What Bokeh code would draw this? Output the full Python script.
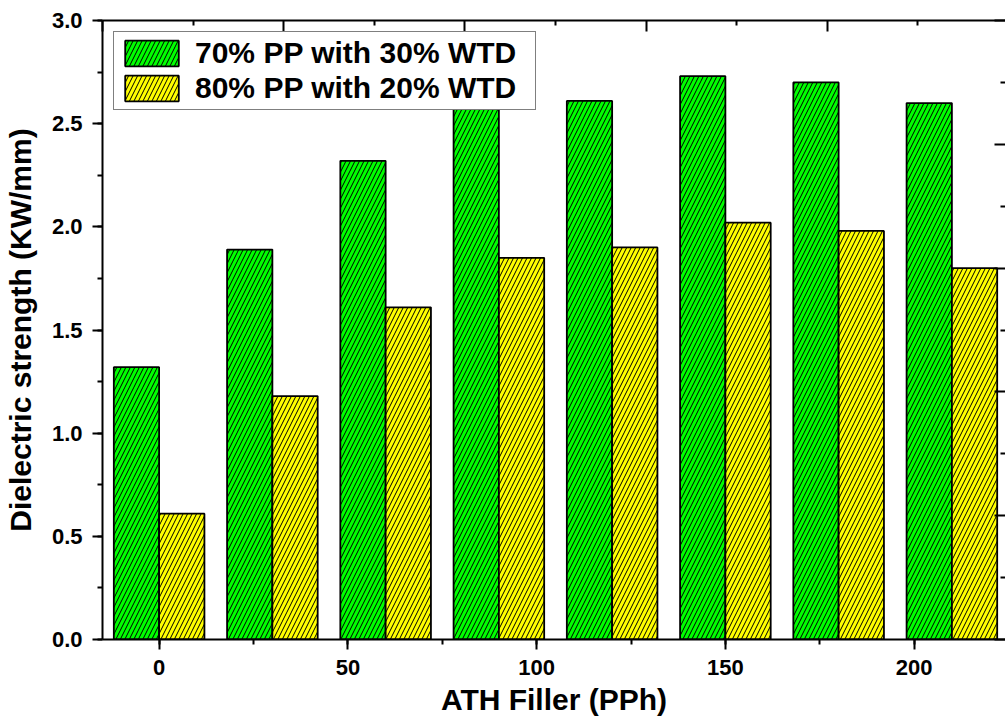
from bokeh.plotting import figure
from bokeh.models import (Range1d, LinearAxis, SingleIntervalTicker, FixedTicker,
                          Legend, LegendItem, ColumnDataSource, PrintfTickFormatter)
from bokeh.transform import dodge
from bokeh.embed import file_html
from bokeh.resources import INLINE

# ---- data ----
filler = [0, 30, 60, 90, 120, 150, 180, 210]
pp70_wtd30 = [1.32, 1.89, 2.32, 2.60, 2.61, 2.73, 2.70, 2.60]
pp80_wtd20 = [0.61, 1.18, 1.61, 1.85, 1.90, 2.02, 1.98, 1.80]
series_labels = ["70% PP with 30% WTD", "80% PP with 20% WTD"]

top_major = [-15, 33, 81, 129, 177, 225]
top_minor = [9, 57, 105, 153, 201]
right_major = [0, 0.6, 1.2, 1.8, 2.4, 3.0]
right_minor = [0.3, 0.9, 1.5, 2.1, 2.7]

FONT = "Liberation Sans"

p = figure(width=1005, height=719, x_range=Range1d(-15, 224.2), y_range=Range1d(0, 3),
           output_backend="svg", toolbar_location=None,
           min_border_left=102, min_border_right=0, min_border_top=20, min_border_bottom=80)
p.outline_line_color = None
p.xgrid.visible = False
p.ygrid.visible = False
p.background_fill_color = "white"
p.border_fill_color = "white"

src = ColumnDataSource(dict(x=filler, a=pp70_wtd30, b=pp80_wtd20))
common = dict(width=12, source=src, line_color="black", line_width=1.8,
              hatch_pattern="/", hatch_color="black", hatch_scale=9, hatch_weight=1)
r1 = p.vbar(x=dodge('x', -6, range=p.x_range), top='a', fill_color="#00FF00", **common)
r2 = p.vbar(x=dodge('x', 6, range=p.x_range), top='b', fill_color="#FFFF00", **common)

xa = p.xaxis[0]
ya = p.yaxis[0]
xa.ticker = SingleIntervalTicker(interval=50, num_minor_ticks=2)
ya.ticker = SingleIntervalTicker(interval=0.5, num_minor_ticks=2)
ya.formatter = PrintfTickFormatter(format="%.1f")
xa.axis_label = "ATH Filler (PPh)"
ya.axis_label = "Dielectric strength (KW/mm)"

for ax in (xa, ya):
    ax.axis_line_width = 2
    ax.axis_line_color = "black"
    ax.major_tick_line_width = 2
    ax.minor_tick_line_width = 2
    ax.major_tick_out = 10
    ax.major_tick_in = 0
    ax.minor_tick_out = 5
    ax.minor_tick_in = 0
    ax.major_label_text_font = FONT
    ax.major_label_text_font_style = "bold"
    ax.major_label_text_font_size = "22px"
    ax.major_label_text_color = "black"
    ax.axis_label_text_font = FONT
    ax.axis_label_text_font_style = "bold"
    ax.axis_label_text_font_size = "30px"
    ax.axis_label_text_color = "black"
xa.major_label_standoff = 10
xa.axis_label_standoff = 5
ya.major_label_standoff = 10
ya.axis_label_standoff = 12

top = LinearAxis(ticker=FixedTicker(ticks=top_major, minor_ticks=top_minor),
                 axis_line_width=2, axis_line_color="black",
                 major_tick_in=11, major_tick_out=0, minor_tick_in=5, minor_tick_out=0,
                 major_tick_line_width=2, minor_tick_line_width=2,
                 major_label_overrides={t: "" for t in top_major},
                 major_label_text_font_size="1px", major_label_standoff=0)
p.add_layout(top, "above")

p.extra_y_ranges = {"r": Range1d(0, 3)}
right = LinearAxis(y_range_name="r", ticker=FixedTicker(ticks=right_major, minor_ticks=right_minor),
                   axis_line_color=None,
                   major_tick_in=11, major_tick_out=0, minor_tick_in=5, minor_tick_out=0,
                   major_tick_line_width=2, minor_tick_line_width=2,
                   major_label_overrides={t: "" for t in right_major},
                   major_label_text_font_size="1px", major_label_standoff=0)
p.add_layout(right, "right")

legend = Legend(items=[LegendItem(label=series_labels[0], renderers=[r1]),
                       LegendItem(label=series_labels[1], renderers=[r2])],
                location="top_left", margin=11, padding=4, spacing=1,
                glyph_width=67, glyph_height=32, label_standoff=10, label_width=336,
                label_text_font=FONT, label_text_font_style="bold",
                label_text_font_size="30px", label_text_color="black",
                border_line_color="black", border_line_width=1,
                background_fill_color="white", background_fill_alpha=1.0)
p.add_layout(legend)

open("out.html", "w").write(file_html(p, INLINE))
